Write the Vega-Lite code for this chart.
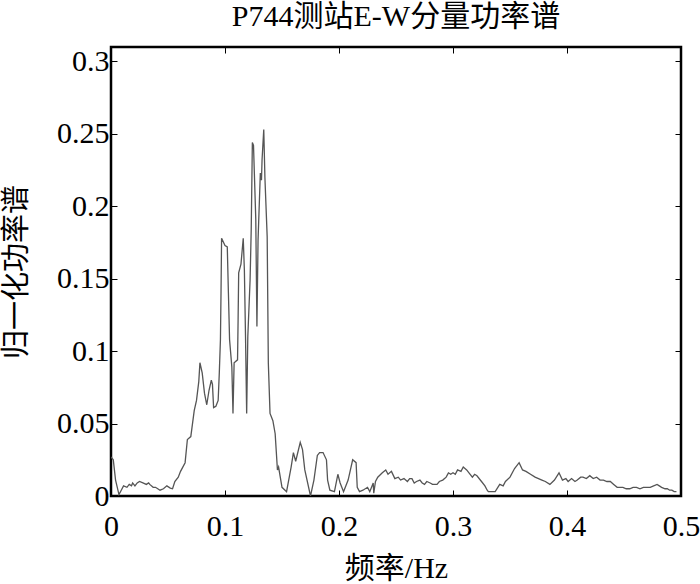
{
  "$schema": "https://vega.github.io/schema/vega-lite/v6.json",
  "autosize": {"type": "none"},
  "width": 570,
  "height": 449,
  "padding": {"left": 111, "top": 47, "right": 19, "bottom": 88},
  "background": "white",
  "title": {"text": "P744测站E-W分量功率谱", "fontSize": 30, "font": "Liberation Serif, Noto Sans CJK SC", "fontWeight": 400, "color": "black", "anchor": "middle", "offset": 14},
  "config": {
    "title": {"fontWeight": 400},
    "view": {"stroke": "black", "strokeWidth": 2.5},
    "axis": {"domain": false, "grid": false, "tickColor": "black", "tickWidth": 1, "labelFont": "Liberation Serif", "labelFontSize": 30, "labelColor": "black", "titleFont": "Liberation Serif, Noto Sans CJK SC", "titleFontSize": 30, "titleFontWeight": 400, "titleColor": "black"}
  },
  "data": {"values": [
    {"f":0.000,"p":0.027},{"f":0.002,"p":0.025},{"f":0.004,"p":0.011},{"f":0.007,"p":0.001},{"f":0.009,"p":0.004},
    {"f":0.011,"p":0.007},{"f":0.014,"p":0.006},{"f":0.016,"p":0.008},{"f":0.018,"p":0.007},{"f":0.019,"p":0.009},
    {"f":0.021,"p":0.007},{"f":0.023,"p":0.009},{"f":0.025,"p":0.010},{"f":0.028,"p":0.009},{"f":0.031,"p":0.008},
    {"f":0.033,"p":0.009},{"f":0.034,"p":0.008},{"f":0.037,"p":0.006},{"f":0.039,"p":0.006},{"f":0.041,"p":0.005},
    {"f":0.043,"p":0.004},{"f":0.046,"p":0.005},{"f":0.049,"p":0.007},{"f":0.052,"p":0.0055},{"f":0.054,"p":0.005},
    {"f":0.056,"p":0.010},{"f":0.059,"p":0.013},{"f":0.061,"p":0.017},{"f":0.065,"p":0.023},{"f":0.067,"p":0.039},
    {"f":0.070,"p":0.041},{"f":0.073,"p":0.059},{"f":0.075,"p":0.066},{"f":0.077,"p":0.079},{"f":0.078,"p":0.092},
    {"f":0.080,"p":0.085},{"f":0.082,"p":0.071},{"f":0.084,"p":0.063},{"f":0.086,"p":0.073},{"f":0.088,"p":0.080},
    {"f":0.089,"p":0.077},{"f":0.090,"p":0.061},{"f":0.092,"p":0.062},{"f":0.094,"p":0.066},{"f":0.095,"p":0.085},
    {"f":0.096,"p":0.108},{"f":0.0965,"p":0.140},{"f":0.097,"p":0.178},{"f":0.100,"p":0.173},{"f":0.102,"p":0.172},
    {"f":0.103,"p":0.140},{"f":0.104,"p":0.108},{"f":0.106,"p":0.089},{"f":0.107,"p":0.057},{"f":0.108,"p":0.092},
    {"f":0.111,"p":0.094},{"f":0.1115,"p":0.122},{"f":0.112,"p":0.154},{"f":0.114,"p":0.160},{"f":0.116,"p":0.178},
    {"f":0.117,"p":0.156},{"f":0.118,"p":0.110},{"f":0.119,"p":0.057},{"f":0.120,"p":0.110},{"f":0.122,"p":0.149},
    {"f":0.123,"p":0.184},{"f":0.124,"p":0.244},{"f":0.125,"p":0.242},{"f":0.127,"p":0.191},{"f":0.128,"p":0.117},
    {"f":0.129,"p":0.177},{"f":0.131,"p":0.223},{"f":0.132,"p":0.218},{"f":0.1325,"p":0.232},{"f":0.134,"p":0.253},
    {"f":0.135,"p":0.220},{"f":0.137,"p":0.179},{"f":0.138,"p":0.092},{"f":0.1395,"p":0.057},{"f":0.142,"p":0.052},
    {"f":0.144,"p":0.043},{"f":0.146,"p":0.018},{"f":0.147,"p":0.020},{"f":0.150,"p":0.006},{"f":0.154,"p":0.003},
    {"f":0.158,"p":0.020},{"f":0.160,"p":0.030},{"f":0.162,"p":0.024},{"f":0.166,"p":0.037},{"f":0.168,"p":0.032},
    {"f":0.170,"p":0.018},{"f":0.175,"p":0.000},{"f":0.178,"p":0.011},{"f":0.181,"p":0.028},{"f":0.183,"p":0.030},
    {"f":0.186,"p":0.030},{"f":0.189,"p":0.025},{"f":0.190,"p":0.011},{"f":0.192,"p":0.004},{"f":0.196,"p":0.003},
    {"f":0.199,"p":0.015},{"f":0.201,"p":0.009},{"f":0.204,"p":0.003},{"f":0.208,"p":0.011},{"f":0.212,"p":0.025},
    {"f":0.215,"p":0.023},{"f":0.216,"p":0.006},{"f":0.218,"p":0.003},{"f":0.221,"p":0.004},{"f":0.225,"p":0.006},
    {"f":0.227,"p":0.003},{"f":0.230,"p":0.009},{"f":0.2305,"p":0.002},{"f":0.232,"p":0.010},{"f":0.234,"p":0.013},
    {"f":0.238,"p":0.016},{"f":0.241,"p":0.018},{"f":0.243,"p":0.015},{"f":0.246,"p":0.017},{"f":0.249,"p":0.012},
    {"f":0.252,"p":0.013},{"f":0.254,"p":0.011},{"f":0.257,"p":0.012},{"f":0.260,"p":0.010},{"f":0.262,"p":0.012},
    {"f":0.264,"p":0.012},{"f":0.266,"p":0.009},{"f":0.268,"p":0.010},{"f":0.271,"p":0.011},{"f":0.273,"p":0.009},
    {"f":0.275,"p":0.008},{"f":0.277,"p":0.010},{"f":0.280,"p":0.009},{"f":0.282,"p":0.008},{"f":0.286,"p":0.008},
    {"f":0.288,"p":0.010},{"f":0.291,"p":0.011},{"f":0.294,"p":0.013},{"f":0.296,"p":0.016},{"f":0.298,"p":0.015},
    {"f":0.300,"p":0.016},{"f":0.302,"p":0.015},{"f":0.304,"p":0.018},{"f":0.307,"p":0.017},{"f":0.309,"p":0.020},
    {"f":0.312,"p":0.018},{"f":0.314,"p":0.016},{"f":0.317,"p":0.013},{"f":0.319,"p":0.015},{"f":0.321,"p":0.014},
    {"f":0.325,"p":0.010},{"f":0.328,"p":0.007},{"f":0.330,"p":0.004},{"f":0.331,"p":0.003},{"f":0.334,"p":0.003},
    {"f":0.337,"p":0.003},{"f":0.341,"p":0.008},{"f":0.344,"p":0.007},{"f":0.346,"p":0.010},{"f":0.350,"p":0.013},
    {"f":0.354,"p":0.019},{"f":0.358,"p":0.023},{"f":0.361,"p":0.018},{"f":0.364,"p":0.017},{"f":0.368,"p":0.015},
    {"f":0.372,"p":0.013},{"f":0.375,"p":0.012},{"f":0.378,"p":0.011},{"f":0.381,"p":0.010},{"f":0.385,"p":0.008},
    {"f":0.389,"p":0.011},{"f":0.393,"p":0.016},{"f":0.396,"p":0.011},{"f":0.399,"p":0.012},{"f":0.401,"p":0.010},
    {"f":0.404,"p":0.012},{"f":0.407,"p":0.010},{"f":0.409,"p":0.011},{"f":0.412,"p":0.013},{"f":0.414,"p":0.013},
    {"f":0.417,"p":0.012},{"f":0.420,"p":0.014},{"f":0.423,"p":0.012},{"f":0.426,"p":0.013},{"f":0.429,"p":0.011},
    {"f":0.432,"p":0.011},{"f":0.435,"p":0.010},{"f":0.438,"p":0.010},{"f":0.441,"p":0.008},{"f":0.444,"p":0.006},
    {"f":0.447,"p":0.006},{"f":0.449,"p":0.006},{"f":0.452,"p":0.005},{"f":0.455,"p":0.005},{"f":0.458,"p":0.006},
    {"f":0.461,"p":0.006},{"f":0.464,"p":0.005},{"f":0.467,"p":0.006},{"f":0.470,"p":0.006},{"f":0.473,"p":0.006},
    {"f":0.476,"p":0.007},{"f":0.479,"p":0.008},{"f":0.481,"p":0.007},{"f":0.483,"p":0.006},{"f":0.486,"p":0.005},
    {"f":0.488,"p":0.005},{"f":0.490,"p":0.004},{"f":0.492,"p":0.004},{"f":0.494,"p":0.003},{"f":0.496,"p":0.003}
  ]},
  "layer": [
    {
      "mark": {"type": "line", "color": "#555555", "strokeWidth": 1.3, "clip": true},
      "encoding": {
        "x": {"field": "f", "type": "quantitative", "scale": {"domain": [0, 0.5], "nice": false, "zero": false},
              "axis": {"orient": "bottom", "values": [0, 0.1, 0.2, 0.3, 0.4, 0.5], "format": "~g", "tickSize": -6, "labelPadding": 21, "labelAngle": 0, "title": "频率/Hz", "titlePadding": 12, "labelFlush": false}},
        "y": {"field": "p", "type": "quantitative", "scale": {"domain": [0, 0.31], "nice": false, "zero": false},
              "axis": {"orient": "left", "values": [0, 0.05, 0.1, 0.15, 0.2, 0.25, 0.3], "format": "~g", "tickSize": -6, "labelPadding": 8, "title": "归一化功率谱", "titleFontSize": 29, "titlePadding": 25, "labelFlush": false}}
      }
    },
    {
      "mark": {"type": "line", "opacity": 0, "clip": true},
      "encoding": {
        "x": {"field": "f", "type": "quantitative", "axis": {"orient": "top", "values": [0, 0.1, 0.2, 0.3, 0.4, 0.5], "tickSize": -6, "labels": false, "title": null}},
        "y": {"field": "p", "type": "quantitative", "axis": {"orient": "right", "values": [0, 0.05, 0.1, 0.15, 0.2, 0.25, 0.3], "tickSize": -6, "labels": false, "title": null}}
      }
    }
  ],
  "resolve": {"axis": {"x": "independent", "y": "independent"}}
}
